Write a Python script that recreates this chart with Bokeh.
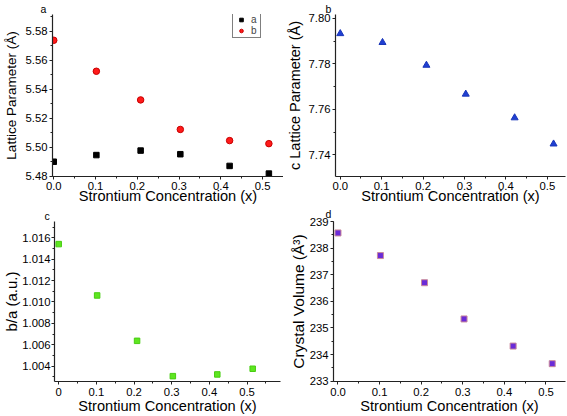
from bokeh.plotting import figure
from bokeh.layouts import column, row
from bokeh.models import (Range1d, SingleIntervalTicker, PrintfTickFormatter,
                          CustomJSTickFormatter, Legend, LegendItem)
from bokeh.embed import file_html
from bokeh.resources import INLINE

# ---- data ----
concentration = [0.0, 0.102, 0.208, 0.303, 0.421, 0.515]
lattice_a = [5.4900, 5.4946, 5.4977, 5.4952, 5.4871, 5.4818]
lattice_b = [5.5739, 5.5525, 5.5327, 5.5123, 5.5046, 5.5025]
lattice_c = [7.7933, 7.7894, 7.7794, 7.7667, 7.7563, 7.7448]
ratio_ba = [1.01541, 1.01061, 1.00637, 1.00307, 1.00323, 1.00376]
volume = [238.57, 237.72, 236.70, 235.34, 234.32, 233.66]

panel_letters = ["a", "b", "c", "d"]
x_title = "Strontium Concentration (x)"
FONT = "Liberation Sans"


def make_fig(w, h, xr, yr, bl, br, bt, bb, ylabel, ylabel_size, yint, yfmt,
             xfmt, yl_standoff, xt_standoff, xl_standoff, letter, letter_dx,
             letter_valign):
    p = figure(width=w, height=h, x_range=Range1d(*xr), y_range=Range1d(*yr),
               output_backend="svg", toolbar_location=None,
               min_border_left=bl, min_border_right=br,
               min_border_top=bt, min_border_bottom=bb)
    p.xgrid.visible = False
    p.ygrid.visible = False
    p.outline_line_color = None
    p.background_fill_color = "white"
    p.border_fill_color = "white"
    # panel letter as the title, pulled left of the frame
    p.title.text = letter
    p.title.align = "left"
    p.title.offset = letter_dx
    p.title.standoff = 0
    p.title.vertical_align = letter_valign
    p.title.text_font = FONT
    p.title.text_font_size = "10.5px"
    p.title.text_font_style = "normal"
    p.title.text_color = "black"
    xa, ya = p.xaxis[0], p.yaxis[0]
    xa.ticker = SingleIntervalTicker(interval=0.1, num_minor_ticks=2)
    xa.formatter = xfmt
    ya.ticker = SingleIntervalTicker(interval=yint, num_minor_ticks=2)
    ya.formatter = PrintfTickFormatter(format=yfmt)
    for ax in (xa, ya):
        ax.axis_line_color = "#222222"
        ax.axis_line_width = 1.2
        ax.major_tick_line_color = "#222222"
        ax.minor_tick_line_color = "#222222"
        ax.major_tick_in = 0
        ax.major_tick_out = 3
        ax.minor_tick_in = 0
        ax.minor_tick_out = 2
        ax.major_label_text_font = FONT
        ax.major_label_text_font_size = "11.3px"
        ax.major_label_text_color = "black"
        ax.axis_label_text_font = FONT
        ax.axis_label_text_font_style = "normal"
        ax.axis_label_text_color = "black"
    ya.major_label_standoff = 2
    xa.major_label_standoff = xt_standoff
    xa.axis_label = x_title
    xa.axis_label_text_font_size = "14.6px"
    xa.axis_label_standoff = xl_standoff
    ya.axis_label = ylabel
    ya.axis_label_text_font_size = ylabel_size
    ya.axis_label_standoff = yl_standoff
    return p


fmt1 = PrintfTickFormatter(format="%.1f")

# ---- panel a (top-left) ----
pa = make_fig(283, 206, (-0.003, 0.550), (5.4798, 5.5917), 52, 0, 12, 29,
              "Lattice Parameter (Å)", "13.5px", 0.02, "%.2f", fmt1, 4, 2, -5,
              panel_letters[0], -12, "bottom")
ra = pa.scatter(concentration, lattice_a, marker="square", size=5.5,
                fill_color="black", line_color="black")
rb = pa.scatter(concentration, lattice_b, marker="circle", size=6.5,
                fill_color="#ff1a1a", line_color="#c80000")
leg = Legend(items=[LegendItem(label="a", renderers=[ra]),
                    LegendItem(label="b", renderers=[rb])],
             location=(180, 138), border_line_color="black", border_line_width=1,
             background_fill_color="white", background_fill_alpha=1.0,
             padding=1, spacing=0, margin=0, glyph_width=14, glyph_height=9,
             label_height=9, label_width=8, label_standoff=3,
             label_text_font=FONT, label_text_font_size="10px")
pa.add_layout(leg)

# ---- panel b (top-right) ----
pb = make_fig(284, 206, (-0.0115, 0.5438), (7.7305, 7.8017), 51, 2, 13, 29,
              "c Lattice Parameter (Å)", "14.5px", 0.02, "%.2f", fmt1, 3, 2, -5,
              panel_letters[1], -10, "bottom")
pb.scatter(concentration, lattice_c, marker="triangle", size=7,
           fill_color="#1f3fd2", line_color="#1a36b8")

# ---- panel c (bottom-left) ----
fmt_c = CustomJSTickFormatter(code="return tick == 0 ? '0' : tick.toFixed(1);")
pc = make_fig(283, 210, (-0.0112, 0.5888), (1.00257, 1.01752), 49, 3, 15, 35,
              "b/a (a.u.)", "15px", 0.002, "%.3f", fmt_c, -1, 3, -1,
              panel_letters[2], -10, "bottom")
pc.yaxis[0].major_label_standoff = 1
pc.scatter(concentration, ratio_ba, marker="square", size=5.5,
           fill_color="#5ee620", line_color="#48cc12")

# ---- panel d (bottom-right) ----
pd_ = make_fig(284, 210, (-0.0108, 0.5469), (232.99, 239.0), 50, 2, 15, 35,
               "Crystal Volume (Å³)", "15.5px", 1, "%d", fmt1, 0, 3, -1,
               panel_letters[3], -8, "top")
pd_.scatter(concentration, volume, marker="square", size=6,
            fill_color="#6a2bd8", line_color="#c98a9c", line_width=1)

layout = column(row(pa, pb), row(pc, pd_))

open("out.html", "w").write(file_html(layout, INLINE))
